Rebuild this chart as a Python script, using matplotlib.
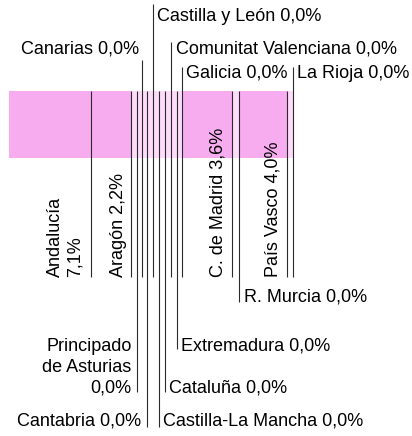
import matplotlib
matplotlib.use("Agg")
import matplotlib.pyplot as plt
import numpy as np

# segments of the strip, left to right
regions = ["Andalucía", "Aragón", "Principado de Asturias", "Canarias", "Cantabria",
           "Castilla y León", "Castilla-La Mancha", "Cataluña", "Comunitat Valenciana",
           "Extremadura", "Galicia", "C. de Madrid", "R. Murcia", "País Vasco", "La Rioja"]
pct = [7.1, 2.2, 0.0, 0.0, 0.0, 0.0, 0.0, 0.0, 0.0, 0.0, 0.0, 3.6, 0.0, 4.0, 0.0]
weights = [82, 40, 5.7, 5.3, 5.3, 6.0, 5.7, 5.7, 6.0, 6.0, 5.6, 50, 6.7, 48.3, 5.7]

C_ON, C_ZERO = "#f7acf0", "#fddcfa"
LINE = "#2a2a2a"
FS = 13
BAR_TOP, BAR_BOT, ROT_BASE = 91, 158, 277

# label layout: kind, line end (y, px), text x offset from line, text y, ha
layout = {
    "Andalucía":              ("rot", None, -7, ROT_BASE, "right"),
    "Aragón":                 ("rot", None, -4, ROT_BASE, "right"),
    "Principado de Asturias": ("bottom", 392, -5, 392.5, "right"),
    "Canarias":               ("top", 60, -3, 53, "right"),
    "Cantabria":              ("bottom", 427, -6, 425, "right"),
    "Castilla y León":        ("top", 4, 4, 21, "left"),
    "Castilla-La Mancha":     ("bottom", 427, 4.5, 425, "left"),
    "Cataluña":               ("bottom", 392, 4.5, 392.5, "left"),
    "Comunitat Valenciana":   ("top", 42, 5, 53, "left"),
    "Extremadura":            ("bottom", 349, 4.5, 350, "left"),
    "Galicia":                ("top", 67, 4, 77.5, "left"),
    "C. de Madrid":           ("rot", None, -5.5, ROT_BASE, "right"),
    "R. Murcia":              ("bottom", 302, 5, 301.5, "left"),
    "País Vasco":             ("rot", None, -5.5, ROT_BASE, "right"),
    "La Rioja":               ("top", 67, 4, 77.5, "left"),
}
names = {"Andalucía": "Andalucía\n", "Principado de Asturias": "Principado\nde Asturias\n"}

plt.rcParams["font.family"] = ["Liberation Sans", "DejaVu Sans"]
fig = plt.figure(figsize=(4.12, 4.36), dpi=100)
ax = fig.add_axes([0, 0, 1, 1])
ax.set_xlim(-9, 403)
ax.set_ylim(436, 0)
ax.axis("off")

w = np.array(weights, dtype=float)
lefts = np.concatenate([[0], np.cumsum(w)[:-1]])
rights = lefts + w
colors = [C_ON if p > 0 else C_ZERO for p in pct]
ax.barh((BAR_TOP + BAR_BOT) / 2, w, left=lefts, height=BAR_BOT - BAR_TOP,
        color=colors, linewidth=0, zorder=1)

for name, p, xr in zip(regions, pct, rights):
    kind, yend, dx, ty, ha = layout[name]
    label = names.get(name, name + " ") + f"{p:.1f}".replace(".", ",") + "%"
    if kind == "top":
        ax.vlines(xr, yend, ROT_BASE, color=LINE, lw=0.8, zorder=2)
        ax.text(xr + dx, ty, label, fontsize=FS, ha=ha, va="baseline")
    elif kind == "bottom":
        ax.vlines(xr, BAR_TOP, yend, color=LINE, lw=0.8, zorder=2)
        ax.text(xr + dx, ty, label, fontsize=FS, ha=ha, va="baseline",
                multialignment="right", linespacing=1.28)
    else:
        ax.vlines(xr, BAR_TOP, ROT_BASE, color=LINE, lw=0.8, zorder=2)
        ax.text(xr + dx, ty, label, fontsize=FS, ha=ha, va="bottom", rotation=90,
                multialignment="left", linespacing=1.2)

fig.savefig("out.png", dpi=100)
